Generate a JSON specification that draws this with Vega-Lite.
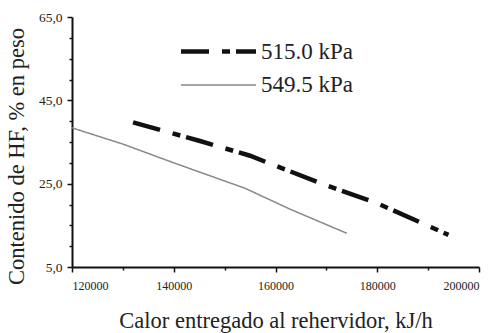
{
  "$schema": "https://vega.github.io/schema/vega-lite/v6.json",
  "width": 407,
  "height": 250,
  "autosize": {"type": "none"},
  "padding": {"left": 72, "top": 17, "right": 19, "bottom": 66},
  "background": "white",
  "config": {
    "view": {"stroke": null},
    "font": "Liberation Serif",
    "style": {
      "guide-label": {"font": "Liberation Serif"},
      "guide-title": {"font": "Liberation Serif"}
    },
    "axis": {"grid": false, "domainColor": "#111", "domainWidth": 2, "tickColor": "#111", "tickWidth": 1.5, "labelColor": "#222", "titleColor": "#222", "labelFont": "Liberation Serif", "titleFont": "Liberation Serif", "titleFontWeight": "normal"},
    "legend": {"labelFont": "Liberation Serif", "labelColor": "#222"}
  },
  "data": {
    "values": [
      {"calor": 132000, "hf": 39.7, "serie": "515.0 kPa"},
      {"calor": 145000, "hf": 35.3, "serie": "515.0 kPa"},
      {"calor": 155000, "hf": 31.7, "serie": "515.0 kPa"},
      {"calor": 160000, "hf": 29.3, "serie": "515.0 kPa"},
      {"calor": 170000, "hf": 24.6, "serie": "515.0 kPa"},
      {"calor": 180000, "hf": 20.3, "serie": "515.0 kPa"},
      {"calor": 194000, "hf": 12.7, "serie": "515.0 kPa"},
      {"calor": 120000, "hf": 38.4, "serie": "549.5 kPa"},
      {"calor": 130000, "hf": 34.5, "serie": "549.5 kPa"},
      {"calor": 140000, "hf": 30.0, "serie": "549.5 kPa"},
      {"calor": 154000, "hf": 23.9, "serie": "549.5 kPa"},
      {"calor": 163000, "hf": 18.8, "serie": "549.5 kPa"},
      {"calor": 174000, "hf": 13.1, "serie": "549.5 kPa"}
    ]
  },
  "mark": {"type": "line", "strokeCap": "butt"},
  "encoding": {
    "x": {
      "field": "calor",
      "type": "quantitative",
      "scale": {"domain": [120000, 200000], "nice": false, "zero": false},
      "axis": {
        "title": "Calor entregado al rehervidor, kJ/h",
        "titleFontSize": 22.5,
        "titleFont": "Liberation Serif",
        "titleY": 42,
        "values": [120000, 130000, 140000, 150000, 160000, 170000, 180000, 190000, 200000],
        "labelExpr": "datum.value % 20000 === 0 ? format(datum.value, 'd') : ''",
        "labelFont": "Liberation Serif",
        "labelFontSize": 12,
        "labelPadding": 8,
        "tickSize": {"condition": {"test": "datum.value % 20000 === 0", "value": 5}, "value": 3}
      }
    },
    "y": {
      "field": "hf",
      "type": "quantitative",
      "scale": {"domain": [5, 65], "nice": false, "zero": false},
      "axis": {
        "title": "Contenido de HF, % en peso",
        "titleFontSize": 22.5,
        "titleFont": "Liberation Serif",
        "titleX": -44,
        "titleY": 139,
        "values": [5, 10, 15, 20, 25, 30, 35, 40, 45, 50, 55, 60, 65],
        "labelExpr": "(datum.value - 5) % 20 === 0 ? replace(format(datum.value, '.1f'), '.', ',') : ''",
        "labelFont": "Liberation Serif",
        "labelFontSize": 13.5,
        "labelPadding": 5,
        "tickSize": {"condition": {"test": "(datum.value - 5) % 20 === 0", "value": 5}, "value": 3}
      }
    },
    "color": {
      "field": "serie",
      "type": "nominal",
      "scale": {"domain": ["515.0 kPa", "549.5 kPa"], "range": ["#111111", "#888888"]},
      "legend": {
        "orient": "none",
        "legendX": 129,
        "legendY": 17,
        "title": null,
        "symbolType": "M -2.5 0 L 2.5 0",
        "symbolSize": 900,
        "symbolFillColor": "transparent",
        "labelFont": "Liberation Serif",
        "labelFontSize": 23,
        "labelOffset": 25,
        "rowPadding": 5
      }
    },
    "strokeDash": {
      "field": "serie",
      "type": "nominal",
      "scale": {"domain": ["515.0 kPa", "549.5 kPa"], "range": [[28, 13, 8, 6], [1, 0]]}
    },
    "strokeWidth": {
      "field": "serie",
      "type": "nominal",
      "scale": {"domain": ["515.0 kPa", "549.5 kPa"], "range": [4.5, 1.5]}
    }
  }
}
